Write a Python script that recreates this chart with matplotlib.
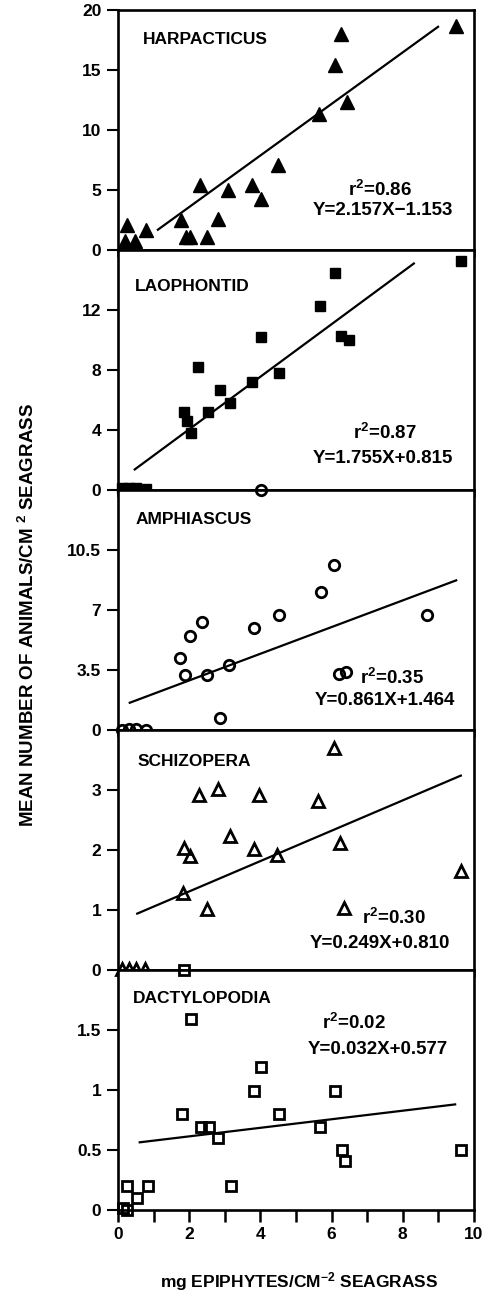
import matplotlib
matplotlib.use("Agg")
import matplotlib.pyplot as plt

plt.rcParams['font.family'] = ['Liberation Sans', 'DejaVu Sans']
plt.rcParams['font.weight'] = 'bold'
plt.rcParams['mathtext.fontset'] = 'custom'
plt.rcParams['mathtext.rm'] = 'Liberation Sans:bold'
plt.rcParams['mathtext.it'] = 'Liberation Sans:bold'
plt.rcParams['mathtext.bf'] = 'Liberation Sans:bold'

# --- data ---
harp_x = [0.26, 0.19, 0.47, 0.78, 1.78, 1.91, 2.02, 2.30, 2.49, 2.82, 3.10, 3.77, 4.02, 4.49, 5.64, 6.09, 6.25, 6.42, 9.5]
harp_y = [2.05, 0.73, 0.73, 1.63, 2.47, 1.07, 1.07, 5.42, 1.07, 2.61, 5.0, 5.42, 4.21, 7.1, 11.3, 15.4, 18.0, 12.3, 18.7]
harp_fit_x = [1.12, 8.99]
harp_fit_y = [1.69, 18.6]

laop_x = [0.1, 0.3, 0.5, 0.8, 1.84, 1.93, 2.05, 2.26, 2.53, 2.86, 3.14, 3.77, 4.02, 4.53, 5.67, 6.09, 6.27, 6.50, 9.63]
laop_y = [0.15, 0.15, 0.15, 0.1, 5.2, 4.6, 3.8, 8.2, 5.2, 6.7, 5.8, 7.2, 10.2, 7.8, 12.3, 14.5, 10.3, 10.0, 15.3]
laop_fit_x = [0.47, 8.31]
laop_fit_y = [1.37, 15.1]

amph_x = [0.1, 0.3, 0.5, 0.8, 1.75, 1.88, 2.02, 2.35, 2.49, 2.86, 3.12, 3.83, 4.02, 4.51, 5.71, 6.06, 6.22, 6.41, 8.68]
amph_y = [0.0, 0.05, 0.08, 0.0, 4.19, 3.2, 5.49, 6.31, 3.22, 0.71, 3.79, 5.96, 14.0, 6.7, 8.06, 9.6, 3.26, 3.36, 6.7]
amph_fit_x = [0.33, 9.5]
amph_fit_y = [1.59, 8.73]

schi_x = [0.1, 0.3, 0.5, 0.75, 1.82, 1.86, 2.02, 2.28, 2.49, 2.82, 3.16, 3.83, 3.97, 4.48, 5.62, 6.06, 6.24, 6.36, 9.63]
schi_y = [0.02, 0.02, 0.02, 0.02, 1.29, 2.03, 1.90, 2.91, 1.02, 3.02, 2.23, 2.02, 2.91, 1.91, 2.81, 3.70, 2.12, 1.03, 1.65]
schi_fit_x = [0.54, 9.63]
schi_fit_y = [0.94, 3.24]

dact_x = [0.15, 0.25, 0.24, 0.52, 0.84, 1.79, 1.86, 2.05, 2.33, 2.56, 2.82, 3.18, 3.83, 4.02, 4.53, 5.67, 6.09, 6.30, 6.39, 9.63]
dact_y = [0.02, 0.0, 0.20, 0.10, 0.20, 0.80, 2.0, 1.59, 0.69, 0.69, 0.60, 0.20, 0.99, 1.19, 0.80, 0.69, 0.99, 0.50, 0.41, 0.50]
dact_fit_x = [0.61, 9.47]
dact_fit_y = [0.564, 0.88]

names = ['HARPACTICUS', 'LAOPHONTID', 'AMPHIASCUS', 'SCHIZOPERA', 'DACTYLOPODIA']
r2_labels = ['0.86', '0.87', '0.35', '0.30', '0.02']
equations = ['Y=2.157X\u22121.153', 'Y=1.755X+0.815', 'Y=0.861X+1.464',
             'Y=0.249X+0.810', 'Y=0.032X+0.577']
y_limits = [20, 16, 14, 4, 2]
y_ticks = [[0, 5, 10, 15, 20], [0, 4, 8, 12], [0, 3.5, 7, 10.5], [0, 1, 2, 3], [0, 0.5, 1, 1.5]]
y_ticklabels = [['0', '5', '10', '15', '20'], ['0', '4', '8', '12'], ['0', '3.5', '7', '10.5'],
                ['0', '1', '2', '3'], ['0', '0.5', '1', '1.5']]
x_ticks = list(range(0, 11))
x_ticklabels = ['0', '', '2', '', '4', '', '6', '', '8', '', '10']

panels = [
    (harp_x, harp_y, harp_fit_x, harp_fit_y, dict(marker='^', ms=9.5, mfc='black', mec='black')),
    (laop_x, laop_y, laop_fit_x, laop_fit_y, dict(marker='s', ms=7.5, mfc='black', mec='black')),
    (amph_x, amph_y, amph_fit_x, amph_fit_y, dict(marker='o', ms=7.5, mfc='none', mec='black', mew=2)),
    (schi_x, schi_y, schi_fit_x, schi_fit_y, dict(marker='^', ms=8, mfc='none', mec='black', mew=2)),
    (dact_x, dact_y, dact_fit_x, dact_fit_y, dict(marker='s', ms=7, mfc='none', mec='black', mew=2)),
]

# text positions in axes fractions (baselines for the fit texts)
name_pos = [(0.07, 0.875), (0.048, 0.846), (0.048, 0.879), (0.056, 0.867), (0.042, 0.883)]
r2_pos = [(0.646, 0.226), (0.66, 0.2125), (0.68, 0.19), (0.685, 0.19), (0.573, 0.754)]
eq_pos = [(0.548, 0.146), (0.548, 0.1125), (0.553, 0.104), (0.539, 0.092), (0.534, 0.65)]

fig = plt.figure(figsize=(4.87, 12.97), dpi=100)
left = 118 / 487
width = (474 - 118) / 487
ph = 240 / 1297
bottom0 = 1 - 1210 / 1297

for i, (px, py, fx, fy, style) in enumerate(panels):
    ax = fig.add_axes([left, bottom0 + (4 - i) * ph, width, ph])
    ax.plot(px, py, linestyle='none', clip_on=False, zorder=3, **style)
    ax.plot(fx, fy, color='black', lw=1.6)
    ax.set_xlim(0, 10)
    ax.set_ylim(0, y_limits[i])
    ax.set_yticks(y_ticks[i])
    ax.set_yticklabels(y_ticklabels[i], fontsize=12.5, fontweight='bold')
    ax.set_xticks(x_ticks)
    if i == 4:
        ax.set_xticklabels(x_ticklabels, fontsize=12.5, fontweight='bold')
        ax.tick_params(axis='x', length=8.5, width=1.8, pad=4)
    else:
        ax.set_xticklabels([])
        ax.tick_params(axis='x', length=5, width=1.8)
    ax.tick_params(axis='y', length=8, width=1.5, pad=4)
    for s in ax.spines.values():
        s.set_linewidth(1.9)
    ax.text(name_pos[i][0], name_pos[i][1], names[i], transform=ax.transAxes,
            fontsize=12.5, fontweight='bold', ha='left', va='center')
    ax.text(r2_pos[i][0], r2_pos[i][1], 'r$^{2}$=' + r2_labels[i], transform=ax.transAxes,
            fontsize=13.5, fontweight='bold', ha='left', va='baseline')
    ax.text(eq_pos[i][0], eq_pos[i][1], equations[i], transform=ax.transAxes,
            fontsize=13.5, fontweight='bold', ha='left', va='baseline')

fig.text(0.0575, 0.526, 'MEAN NUMBER OF ANIMALS/CM $^{2}$ SEAGRASS', rotation=90,
         ha='center', va='center', fontsize=13.5, fontweight='bold')
fig.text(0.614, 0.0116, 'mg EPIPHYTES/CM$^{-2}$ SEAGRASS', ha='center', va='center',
         fontsize=12.5, fontweight='bold')

fig.savefig('out.png', dpi=100)
